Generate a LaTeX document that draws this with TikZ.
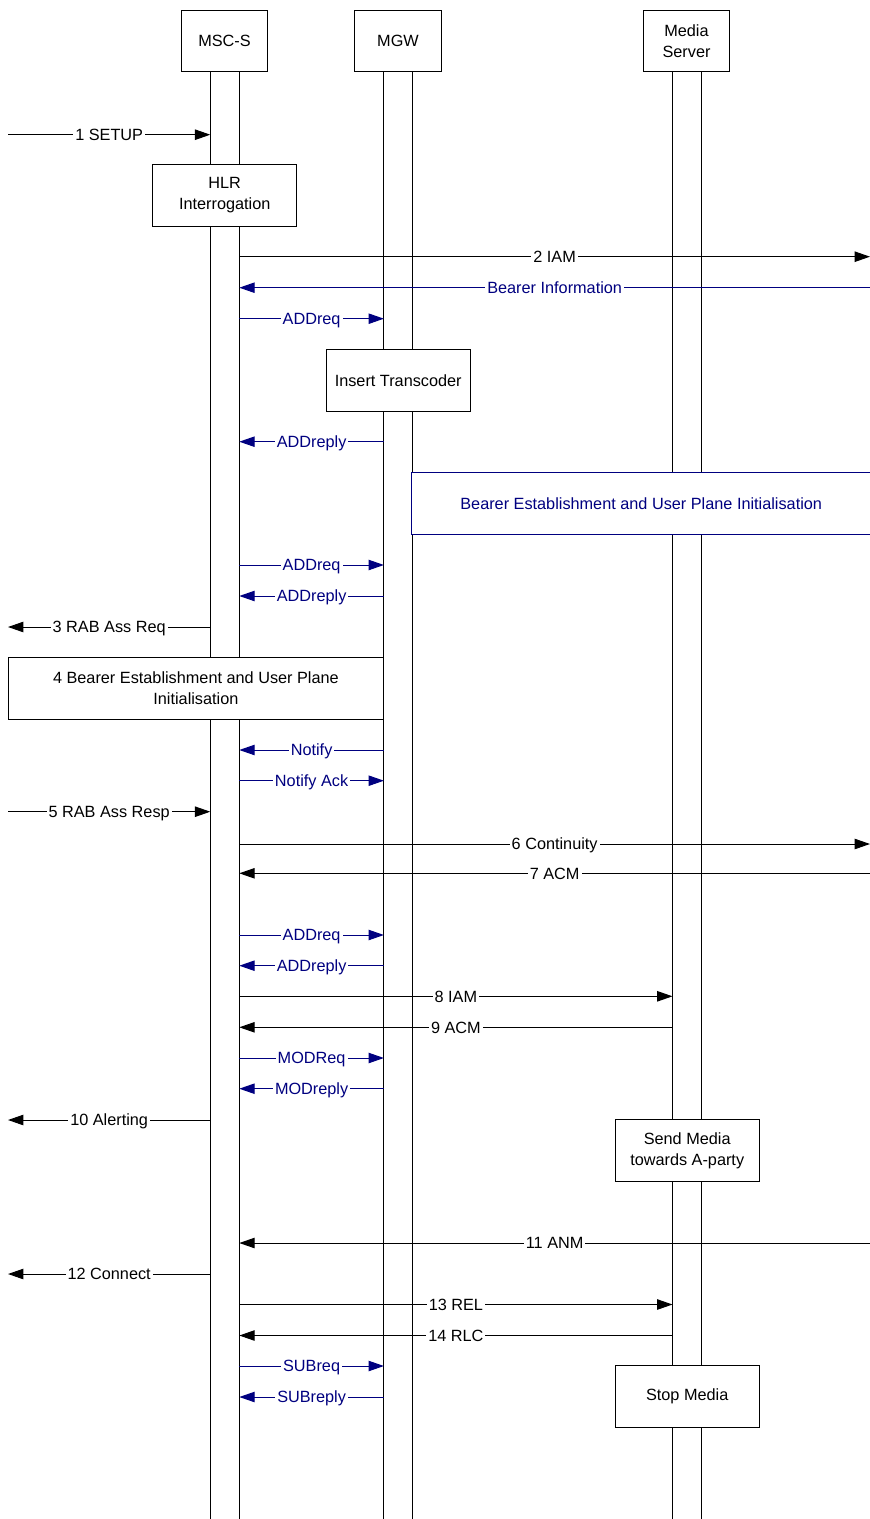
\documentclass[tikz,border=0pt]{standalone}
\usepackage{fontspec}
\setmainfont{Liberation Sans}
\usetikzlibrary{arrows.meta}
\definecolor{navy}{RGB}{0,0,128}
\newcommand\mymsg[6]{%
  \coordinate (#1a) at (#3,#2);
  \coordinate (#1b) at (#4,#2);
  \draw[#6] (#1a) -- node[lbl] {#5} (#1b);}
\begin{document}
\begin{tikzpicture}[x=0.75pt,y=-0.75pt,
  every node/.style={font={\fontsize{12.2}{15.75}\selectfont}},
  box/.style={draw, fill=white, line width=0.75pt, align=center, inner sep=0pt,
    minimum width=144*0.75pt, minimum height=61.5*0.75pt},
  hdr/.style={box, minimum width=86.5*0.75pt, minimum height=61*0.75pt},
  life/.style={line width=0.75pt, black},
  lbl/.style={fill=white, inner xsep=1.5pt, inner ysep=0.5pt, text height=8.7pt, text depth=0pt},
  msgk/.style={line width=0.75pt, black, -{Triangle[length=11.5pt,width=7.8pt]}},
  msgb/.style={line width=0.75pt, navy, -{Triangle[length=11.5pt,width=7.8pt]}}]
\useasboundingbox (0,0) rectangle (870,1519);
\clip (0,0) rectangle (870,1519);
\fill[white] (0,0) rectangle (870,1519);

% header boxes
\node[hdr] (msc) at (224.5,41.2) {MSC-S};
\node[hdr] (mgw) at (398,41.2) {MGW};
\node[hdr] (ms) at (686.5,41.2) {Media\\Server};

% lifelines
\coordinate (mscLt) at (210.3,71.7); \coordinate (mscLb) at (210.3,1519);
\coordinate (mscRt) at (239.3,71.7); \coordinate (mscRb) at (239.3,1519);
\coordinate (mgwLt) at (383.9,71.7); \coordinate (mgwLb) at (383.9,1519);
\coordinate (mgwRt) at (412.5,71.7); \coordinate (mgwRb) at (412.5,1519);
\coordinate (msLt) at (672.5,71.7); \coordinate (msLb) at (672.5,1519);
\coordinate (msRt) at (701.2,71.7); \coordinate (msRb) at (701.2,1519);
\draw[life] (mscLt) -- (mscLb);
\draw[life] (mscRt) -- (mscRb);
\draw[life] (mgwLt) -- (mgwLb);
\draw[life] (mgwRt) -- (mgwRb);
\draw[life] (msLt) -- (msLb);
\draw[life] (msRt) -- (msRb);

% action boxes
\node[box] (hlr) at (224.7,195.3) {HLR\\Interrogation};
\node[box] (ins) at (398.2,380.3) {Insert Transcoder};
\node[box, draw=none, text=navy, minimum width=457.5*0.75pt] (best) at (641.2,503.5)
  {Bearer Establishment and User Plane Initialisation};
\draw[navy, line width=0.75pt] (best.north east) -- (best.north west) -- (best.south west) -- (best.south east);
\node[box, minimum width=375.7*0.75pt] (b4) at (195.9,688.5) {4 Bearer Establishment and User Plane\\Initialisation};
\node[box] (send) at (687.2,1150.5) {Send Media\\towards A-party};
\node[box] (stop) at (687.2,1396.5) {Stop Media};

% messages
\mymsg{m1}{134.7}{8}{210.3}{1 SETUP}{msgk}
\mymsg{m2}{256.7}{239.3}{870}{2 IAM}{msgk}
\mymsg{bi}{287.7}{870}{239.3}{Bearer Information}{msgb}
\mymsg{a1}{318.7}{239.3}{383.9}{ADDreq}{msgb}
\mymsg{r1}{441.7}{383.9}{239.3}{ADDreply}{msgb}
\mymsg{a2}{565}{239.3}{383.9}{ADDreq}{msgb}
\mymsg{r2}{596}{383.9}{239.3}{ADDreply}{msgb}
\mymsg{m3}{627}{210.3}{8}{3 RAB Ass Req}{msgk}
\mymsg{nt}{750}{383.9}{239.3}{Notify}{msgb}
\mymsg{na}{780.7}{239.3}{383.9}{Notify Ack}{msgb}
\mymsg{m5}{811.7}{8}{210.3}{5 RAB Ass Resp}{msgk}
\mymsg{m6}{844}{239.3}{870}{6 Continuity}{msgk}
\mymsg{m7}{873.3}{870}{239.3}{7 ACM}{msgk}
\mymsg{a3}{935}{239.3}{383.9}{ADDreq}{msgb}
\mymsg{r3}{965.7}{383.9}{239.3}{ADDreply}{msgb}
\mymsg{m8}{996.3}{239.3}{672.5}{8 IAM}{msgk}
\mymsg{m9}{1027.3}{672.5}{239.3}{9 ACM}{msgk}
\mymsg{mq}{1058}{239.3}{383.9}{MODReq}{msgb}
\mymsg{mr}{1088.7}{383.9}{239.3}{MODreply}{msgb}
\mymsg{m10}{1120}{210.3}{8}{10 Alerting}{msgk}
\mymsg{m11}{1243}{870}{239.3}{11 ANM}{msgk}
\mymsg{m12}{1274}{210.3}{8}{12 Connect}{msgk}
\mymsg{m13}{1304.5}{239.3}{672.5}{13 REL}{msgk}
\mymsg{m14}{1335.5}{672.5}{239.3}{14 RLC}{msgk}
\mymsg{sq}{1366}{239.3}{383.9}{SUBreq}{msgb}
\mymsg{sr}{1397}{383.9}{239.3}{SUBreply}{msgb}
\end{tikzpicture}
\end{document}
